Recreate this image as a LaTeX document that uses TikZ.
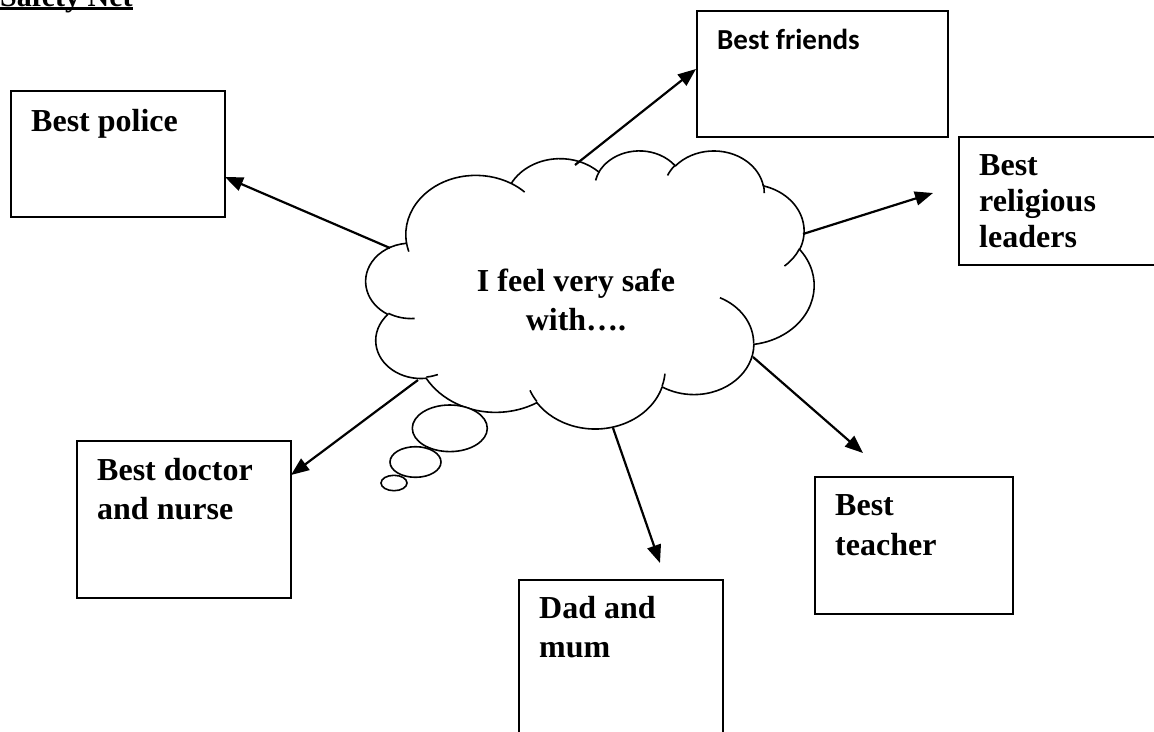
\documentclass[tikz,border=0pt]{standalone}
\usepackage{fontspec}
\setmainfont{Liberation Serif}
\newfontfamily\calibrifont{Carlito}
\usetikzlibrary{arrows.meta}
\tikzset{
  ooarc/.style n args={4}{insert path={arc[x radius=#1, y radius=#2,
     start angle={atan2((#1)*sin(#3),(#2)*cos(#3))},
     delta angle={mod(atan2((#1)*sin((#3)+(#4)),(#2)*cos((#3)+(#4)))-atan2((#1)*sin(#3),(#2)*cos(#3))+720,360)}]}},
  box/.style={draw, line width=1.8pt, inner sep=0pt, anchor=north west},
  lbl/.style={anchor=base west, inner sep=0pt, align=left, font=\fontsize{32}{39}\selectfont\bfseries},
  conn/.style={line width=2.2pt, -{Triangle[length=18pt,width=14pt]}},
  cloudline/.style={line width=1.6pt, line join=round},
}
\begin{document}
\begin{tikzpicture}[x=1pt,y=-1pt]
\useasboundingbox (0,0) rectangle (1154,731);
\clip (0,0) rectangle (1154,731);
\fill[white] (0,0) rectangle (1154,731);

% title
\node[anchor=base west, inner sep=0pt] (title) at (0,6)
  {\fontsize{30}{36}\selectfont\bfseries\setbox0\hbox{Safety Net}\rlap{\rule[-4pt]{\wd0}{3pt}}\box0};

% boxes
\node[box, minimum width=214pt, minimum height=126pt] (police) at (10,90) {};
\node[box, minimum width=251pt, minimum height=126pt] (friends) at (696,10) {};
\node[box, minimum width=230pt, minimum height=128pt] (religious) at (958,136) {};
\node[box, minimum width=214pt, minimum height=157pt] (doctor) at (76,440) {};
\node[box, minimum width=204pt, minimum height=200pt] (dad) at (518,579) {};
\node[box, minimum width=198pt, minimum height=137pt] (teacher) at (814,476) {};

% box texts (anchor = baseline of last line)
\node[lbl] (policeT) at (31,131) {Best police};
\node[anchor=base west, inner sep=0pt, font=\calibrifont\fontsize{29}{35}\selectfont\bfseries] (friendsT) at (717,49) {Best friends};
\node[lbl, font=\fontsize{32}{36}\selectfont\bfseries] (religiousT) at (979,247) {Best\\religious\\leaders};
\node[lbl] (doctorT) at (97,519) {Best doctor\\and nurse};
\node[lbl] (dadT) at (539,657) {Dad and\\mum};
\node[lbl, font=\fontsize{32}{40}\selectfont\bfseries] (teacherT) at (835,555) {Best\\teacher};

% cloud (callout) in shape coordinates (0..432)
\begin{scope}[shift={(366,150)}, x=1.037037pt, y=-0.643519pt]
  \draw[cloudline, fill=white] (39,143.7)
    [ooarc={67.53}{91.90}{-190.4875}{123.7805}]
    [ooarc={53.33}{72.67}{-144.1024}{89.9452}]
    [ooarc={43.65}{59.45}{-145.8079}{99.7230}]
    [ooarc={48.57}{65.95}{-130.9861}{117.2417}]
    [ooarc={53.33}{72.73}{-78.7089}{109.0269}]
    [ooarc={67.75}{92.20}{-46.2673}{130.2690}]
    [ooarc={57.85}{78.67}{0.6250}{114.0333}]
    [ooarc={67.52}{92.15}{22.4516}{115.1726}]
    [ooarc={77.20}{105.43}{66.2426}{75.7110}]
    [ooarc={43.60}{59.18}{-274.9421}{146.7356}]
    [ooarc={43.45}{59.45}{-246.8285}{152.5189}] -- cycle;
  \draw[cloudline]
    (46.93,261.77) [ooarc={43.45}{59.45}{86.7420}{26.4295}]
    (69.28,348.99) [ooarc={43.60}{59.18}{73.6105}{11.4475}]
    (164.78,390.90) [ooarc={67.52}{92.15}{137.6242}{14.0811}]
    (288.27,347.51) [ooarc={67.52}{92.15}{6.4533}{15.9984}]
    (341.29,229.54) [ooarc={57.85}{78.67}{-70.2924}{70.9174}]
    (417.98,153.54) [ooarc={53.33}{72.73}{30.3180}{27.7515}]
    (383.24,54.26) [ooarc={48.57}{65.95}{-13.7443}{14.8589}]
    (290.78,39.52) [ooarc={48.57}{65.95}{-149.1815}{18.1954}]
    (221.41,47.20) [ooarc={43.65}{59.45}{-163.4943}{17.6864}]
    (140.00,51.92) [ooarc={67.53}{91.90}{-66.7070}{12.3194}]
    (41.27,157.89) [ooarc={67.53}{91.90}{157.6544}{11.8582}];
\end{scope}

% thought bubbles
\draw[cloudline, fill=white] (449.8,428.3) ellipse [x radius=37.5, y radius=23.3];
\draw[cloudline, fill=white] (415.5,462) ellipse [x radius=25.5, y radius=15.3];
\draw[cloudline, fill=white] (394,483) ellipse [x radius=13, y radius=7.7];

\node[anchor=base, inner sep=0pt, align=center, font=\fontsize{32}{39}\selectfont\bfseries] (cloudT) at (576,330) {I feel very safe\\with….};

% connector end points
\coordinate (cPolice) at (390,248);
\coordinate (tPolice) at (225,177);
\coordinate (cFriends) at (575,165);
\coordinate (tFriends) at (696,69);
\coordinate (cReligious) at (803,234);
\coordinate (tReligious) at (933,193);
\coordinate (cDoctor) at (418,380);
\coordinate (tDoctor) at (291,475);
\coordinate (cDad) at (613,428);
\coordinate (tDad) at (660,563);
\coordinate (cTeacher) at (753,357);
\coordinate (tTeacher) at (863,453);

\draw[conn] (cPolice) -- (tPolice);
\draw[conn] (cFriends) -- (tFriends);
\draw[conn] (cReligious) -- (tReligious);
\draw[conn] (cDoctor) -- (tDoctor);
\draw[conn] (cDad) -- (tDad);
\draw[conn] (cTeacher) -- (tTeacher);
\end{tikzpicture}
\end{document}
